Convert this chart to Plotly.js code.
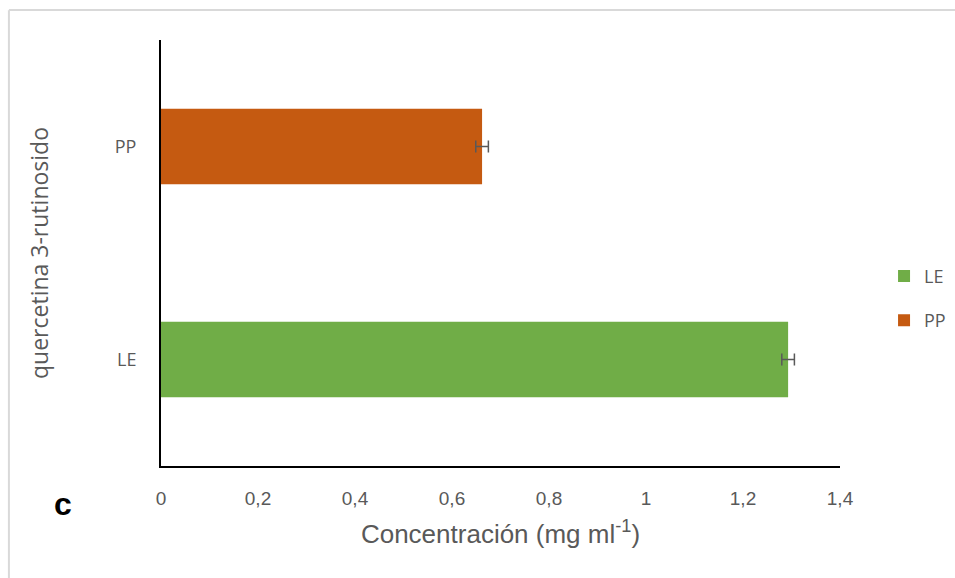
<!DOCTYPE html>
<html>
<head>
<meta charset="utf-8">
<script src="https://cdn.plot.ly/plotly-3.0.1.min.js"></script>
<style>html,body{margin:0;padding:0;background:#fff;}#chart{width:955px;height:578px;}</style>
</head>
<body>
<div id="chart"></div>
<script>
const seriesNames = ['LE', 'PP'];
const categories = ['LE', 'PP'];
const values = [1.293, 0.662];
const errors = [0.013, 0.013];
const colors = ['#70AD47', '#C55A11'];
const xTickVals = [0, 0.2, 0.4, 0.6, 0.8, 1, 1.2, 1.4];
const xTickText = ['0', '0,2', '0,4', '0,6', '0,8', '1', '1,2', '1,4'];

const traces = seriesNames.map((name, i) => ({
  type: 'bar',
  orientation: 'h',
  name: name,
  legendgroup: name,
  y: [categories[i]],
  x: [values[i]],
  width: 0.355,
  marker: {color: colors[i]},
  error_x: {type: 'data', array: [errors[i]], visible: true, color: '#595959', thickness: 1.5, width: 6},
  hoverinfo: 'x+y'
}));

const layout = {
  width: 955, height: 578,
  margin: {l: 161, r: 115, t: 40, b: 112},
  paper_bgcolor: '#ffffff', plot_bgcolor: '#ffffff',
  barmode: 'overlay',
  showlegend: true,
  legend: {
    xref: 'container', yref: 'container',
    x: 0.9257, y: 0.484, xanchor: 'left', yanchor: 'middle',
    font: {family: 'Open Sans, sans-serif', size: 18, color: '#595959'},
    tracegroupgap: 18, itemwidth: 30,
    bgcolor: 'rgba(0,0,0,0)'
  },
  xaxis: {
    range: [0, 1.4], tickvals: xTickVals, ticktext: xTickText,
    showgrid: false, zeroline: false,
    showline: true, linecolor: '#000000', linewidth: 2,
    ticks: '', ticklabelstandoff: 14,
    tickfont: {family: 'Liberation Sans, Arial, sans-serif', size: 19, color: '#595959'},
    title: {text: 'Concentración (mg ml<sup>-1</sup>)', standoff: 17,
            font: {family: 'Liberation Sans, Arial, sans-serif', size: 26, color: '#595959'}}
  },
  yaxis: {
    type: 'category', categoryorder: 'array', categoryarray: categories,
    range: [-0.5, 1.5],
    showgrid: false, zeroline: false,
    showline: true, linecolor: '#000000', linewidth: 2,
    ticks: '', ticklabelstandoff: 19,
    tickfont: {family: 'Open Sans, sans-serif', size: 18, color: '#595959'},
    title: {text: 'quercetina 3-rutinosido', standoff: 60,
            font: {family: 'Open Sans, sans-serif', size: 23, color: '#595959'}}
  },
  shapes: [
    {type: 'line', xref: 'paper', yref: 'paper', x0: -0.224, x1: -0.224, y0: -0.35, y1: 1.07,
     line: {color: '#D9D9D9', width: 2}},
    {type: 'line', xref: 'paper', yref: 'paper', x0: -0.224, x1: 1.2, y0: 1.0705, y1: 1.0705,
     line: {color: '#D9D9D9', width: 2}}
  ],
  annotations: [
    {text: '<b>c</b>', xref: 'paper', yref: 'paper', x: -0.145, y: -0.09, xanchor: 'center', yanchor: 'middle',
     showarrow: false, font: {family: 'Liberation Sans, Arial, sans-serif', size: 32, color: '#000000'}}
  ]
};

Plotly.newPlot('chart', traces, layout, {displayModeBar: false, staticPlot: true});
</script>
</body>
</html>
